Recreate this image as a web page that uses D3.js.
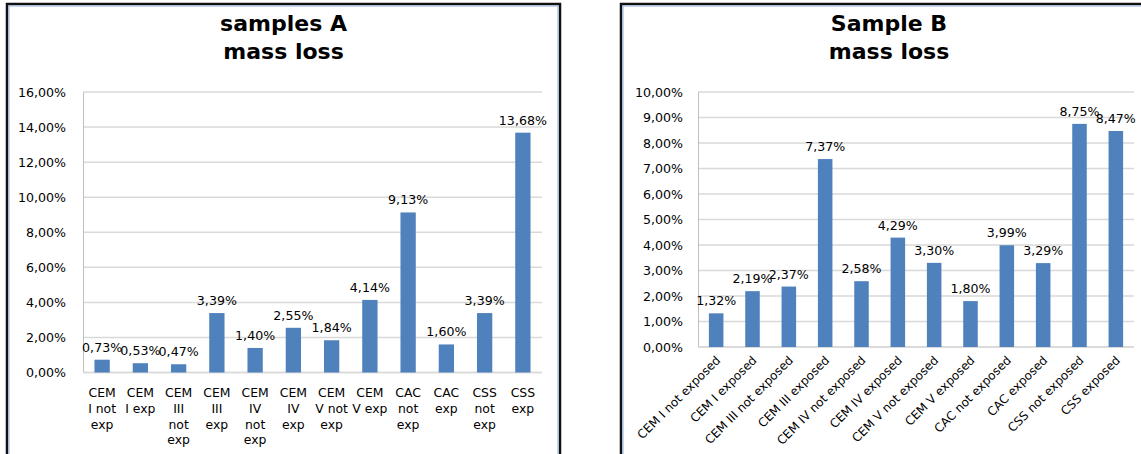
<!DOCTYPE html>
<html><head><meta charset="utf-8">
<script src="https://cdn.jsdelivr.net/npm/d3@7"></script>
<style>body{margin:0;background:#fff}svg{display:block}text{font-family:"DejaVu Sans",sans-serif;fill:#000}</style>
</head><body>
<svg id="c" width="1141" height="454"></svg>
<script>
// ---- data ----
const titleA = ["samples A", "mass loss"];
const categoriesA = ["CEM\nI not\nexp", "CEM\nI exp", "CEM\nIII\nnot\nexp", "CEM\nIII\nexp", "CEM\nIV\nnot\nexp", "CEM\nIV\nexp", "CEM\nV not\nexp", "CEM\nV exp", "CAC\nnot\nexp", "CAC\nexp", "CSS\nnot\nexp", "CSS\nexp"];
const valuesA = [0.0073, 0.0053, 0.0047, 0.0339, 0.0140, 0.0255, 0.0184, 0.0414, 0.0913, 0.0160, 0.0339, 0.1368];
const ticksA = [0, 0.02, 0.04, 0.06, 0.08, 0.10, 0.12, 0.14, 0.16];

const titleB = ["Sample B", "mass loss"];
const categoriesB = ["CEM I not exposed", "CEM I exposed", "CEM III not exposed", "CEM III exposed", "CEM IV not exposed", "CEM IV exposed", "CEM V not exposed", "CEM V exposed", "CAC not exposed", "CAC exposed", "CSS not exposed", "CSS exposed"];
const valuesB = [0.0132, 0.0219, 0.0237, 0.0737, 0.0258, 0.0429, 0.0330, 0.0180, 0.0399, 0.0329, 0.0875, 0.0847];
const ticksB = [0, 0.01, 0.02, 0.03, 0.04, 0.05, 0.06, 0.07, 0.08, 0.09, 0.10];

const loc = d3.formatLocale({decimal: ",", thousands: ".", grouping: [3], currency: ["", ""], percent: "%"});
const fmt = loc.format(".2%");
const BAR = "#4f81bd";
const FONT = "DejaVu Sans, sans-serif";
const svg = d3.select("#c");

function frame(x, y, w, h) {
  svg.append("rect").attr("x", x).attr("y", y).attr("width", w).attr("height", h)
    .attr("fill", "#fff").attr("stroke", "#111").attr("stroke-width", 2.5);
  svg.append("rect").attr("x", x + 2).attr("y", y + 2).attr("width", w - 4).attr("height", h - 4)
    .attr("fill", "none").attr("stroke", "#8db3e2").attr("stroke-width", 1);
}

function chart(o) {
  const g = svg.append("g");
  const x = d3.scaleBand().domain(o.cats).range([o.x0, o.x1]).paddingInner(0.6).paddingOuter(0.3);
  const y = d3.scaleLinear().domain([0, o.max]).range([o.y0, o.y1]);
  // title
  g.selectAll("text.title").data(o.title).join("text").attr("class", "title")
    .attr("x", o.tx).attr("y", (d, i) => o.ty + i * 28)
    .attr("text-anchor", "middle").style("font-size", "22px").style("font-weight", "bold").text(d => d);
  // grid
  g.selectAll("line.grid").data(o.ticks).join("line").attr("class", "grid")
    .attr("x1", o.x0).attr("x2", o.x1).attr("y1", d => y(d)).attr("y2", d => y(d))
    .attr("stroke", "#d9d9d9").attr("stroke-width", 1.5);
  // y axis
  const ax = g.append("g").attr("transform", `translate(${o.x0},0)`)
    .call(d3.axisLeft(y).tickValues(o.ticks).tickFormat(fmt).tickSize(0).tickPadding(o.tpad));
  ax.select(".domain").attr("stroke", "#bfbfbf").attr("stroke-width", 1);
  ax.selectAll("text").style("font-size", "12.6px").style("font-family", FONT).attr("fill", "#222");
  // bottom line
  g.append("line").attr("x1", o.x0).attr("x2", o.x1).attr("y1", y(0)).attr("y2", y(0))
    .attr("stroke", "#d9d9d9").attr("stroke-width", 1.5);
  // bars
  g.selectAll("rect.bar").data(o.vals).join("rect").attr("class", "bar")
    .attr("x", (d, i) => x(o.cats[i])).attr("width", x.bandwidth())
    .attr("y", d => y(d)).attr("height", d => y(0) - y(d)).attr("fill", BAR);
  // labels
  g.selectAll("text.lbl").data(o.vals).join("text").attr("class", "lbl")
    .attr("x", (d, i) => x(o.cats[i]) + x.bandwidth() / 2).attr("y", d => y(d) - 8)
    .attr("text-anchor", "middle").style("font-size", "12.6px").attr("fill", "#222").text(d => fmt(d));
  return {g, x, y};
}

// Chart A
frame(7, 4, 553, 470);
const A = chart({cats: categoriesA, vals: valuesA, ticks: ticksA, max: 0.16, title: titleA,
  x0: 83, x1: 542, y0: 372.5, y1: 92, tx: 283.5, ty: 31, tpad: 17});
const xa = A.g.append("g");
categoriesA.forEach((c, i) => {
  const cx = A.x(c) + A.x.bandwidth() / 2;
  const t = xa.append("text").attr("text-anchor", "middle").style("font-size", "12.4px").attr("fill", "#222")
    .attr("x", cx).attr("y", 397);
  c.split("\n").forEach((l, j) => t.append("tspan").attr("x", cx).attr("dy", j ? 15.8 : 0).text(l));
});

// Chart B
frame(621, 4, 560, 470);
const B = chart({cats: categoriesB, vals: valuesB, ticks: ticksB, max: 0.10, title: titleB,
  x0: 698, x1: 1134, y0: 347, y1: 92, tx: 889, ty: 31, tpad: 15});
B.g.append("g").selectAll("text").data(categoriesB).join("text")
  .attr("text-anchor", "end").style("font-size", "12px").attr("fill", "#222")
  .attr("transform", d => `translate(${B.x(d) + B.x.bandwidth() / 2 + 5},${361}) rotate(-45)`)
  .text(d => d);
</script>
</body></html>
